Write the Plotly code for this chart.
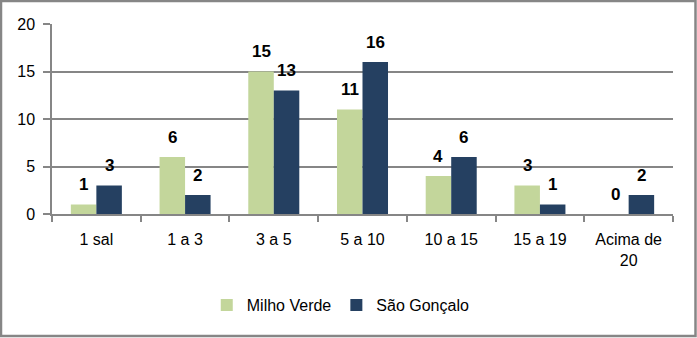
import plotly.graph_objects as go

categories = ["1 sal", "1 a 3", "3 a 5", "5 a 10", "10 a 15", "15 a 19", "Acima de<br>20"]
milho_verde = [1, 6, 15, 11, 4, 3, 0]
sao_goncalo = [3, 2, 13, 16, 6, 1, 2]
series_names = ["Milho Verde", "São Gonçalo"]
colors = ["#c3d69b", "#254061"]
y_ticks = [0, 5, 10, 15, 20]

W, H = 697, 338
ml, mr, mt, mb = 52, 24, 24, 124
pw, ph = W - ml - mr, H - mt - mb

fig = go.Figure()
for name, vals, col in zip(series_names, [milho_verde, sao_goncalo], colors):
    fig.add_trace(go.Bar(name=name, x=categories, y=vals, marker=dict(color=col, line=dict(width=0))))

# data labels
bar_px = pw / len(categories) * (1 - 0.425) / 2
for i, vals in enumerate([milho_verde, sao_goncalo]):
    shift = (i - 0.5) * bar_px
    for c, v in zip(categories, vals):
        fig.add_annotation(x=c, y=v, text=str(v), showarrow=False, xshift=shift, yshift=20,
                           yanchor="middle", xanchor="center",
                           font=dict(family="Liberation Sans, Arial", size=17, color="#000", weight="bold"))

# outer border
fig.add_shape(type="rect", xref="paper", yref="paper",
              x0=(1 - ml) / pw, x1=(695.5 - ml) / pw,
              y0=-(336 - mt - ph) / ph, y1=1 + (mt - 1) / ph,
              line=dict(color="#868686", width=2.5), fillcolor="rgba(0,0,0,0)", layer="below")

fig.update_layout(
    width=W, height=H, margin=dict(l=ml, r=mr, t=mt, b=mb, autoexpand=False),
    barmode="group", bargap=0.425, bargroupgap=0,
    plot_bgcolor="white", paper_bgcolor="white",
    font=dict(family="Liberation Sans, Arial", size=16, color="#000"),
    showlegend=True,
    legend=dict(orientation="h", x=0.465, xanchor="center", y=-91 / ph, yanchor="middle",
                font=dict(size=16), itemwidth=30, bgcolor="rgba(0,0,0,0)"),
    xaxis=dict(showline=True, linecolor="#868686", linewidth=1.5, ticks="outside", tickson="boundaries",
               ticklen=6, tickcolor="#868686", tickwidth=1.5, showgrid=False,
               tickfont=dict(size=16), ticklabelstandoff=10),
    yaxis=dict(range=[0, 20], tickvals=y_ticks, showline=True, linecolor="#868686", linewidth=1.5,
               ticks="outside", ticklen=7, tickcolor="#868686", tickwidth=1.5,
               showgrid=True, gridcolor="#868686", gridwidth=1.5, zeroline=False,
               tickfont=dict(size=16), ticklabelstandoff=5),
)
fig.write_html("out.html", config={"displayModeBar": False},
               post_script="document.body.style.margin='0';")
